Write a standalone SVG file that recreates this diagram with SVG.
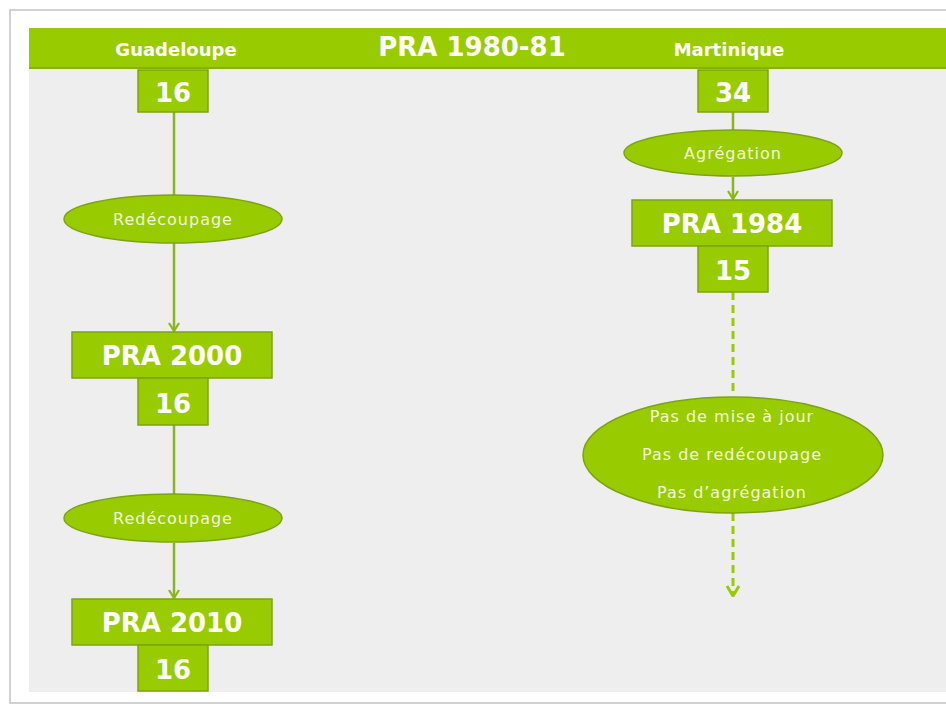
<svg xmlns="http://www.w3.org/2000/svg" width="946" height="706" viewBox="0 0 946 706">
<style>
.box{fill:#99cc00;stroke:#7ea312;stroke-width:1.5}
.ell{fill:#99cc00;stroke:#7ea312;stroke-width:1.5}
.big{font-family:"DejaVu Sans",sans-serif;font-weight:bold;fill:#ffffff;text-anchor:middle}
.lab{font-family:"DejaVu Sans",sans-serif;font-size:16px;letter-spacing:1px;fill:#f2f9dc;text-anchor:middle}
.con{stroke:#8ab51c;stroke-width:2.5;fill:none}
.dash{stroke:#99cc00;stroke-width:3;fill:none;stroke-dasharray:8 5}
</style>
<defs>
<marker id="arr" viewBox="0 0 12 10" refX="6" refY="9" markerWidth="12" markerHeight="10" markerUnits="userSpaceOnUse">
<path d="M1,1 L6,9 L11,1" fill="none" stroke="#8ab51c" stroke-width="2.2"/>
</marker>
<marker id="arr2" viewBox="0 0 14 12" refX="7" refY="11" markerWidth="14" markerHeight="12" markerUnits="userSpaceOnUse">
<path d="M1,1 L7,11 L13,1" fill="none" stroke="#99cc00" stroke-width="3"/>
</marker>
</defs>
<rect x="0" y="0" width="946" height="706" fill="#ffffff"/>
<rect x="10" y="10" width="960" height="693" fill="#ffffff" stroke="#c4c4c4" stroke-width="1.5"/>
<rect x="29" y="28" width="917" height="664" fill="#eeeeee"/>
<g id="header">
<rect x="29" y="28" width="917" height="40" fill="#99cc00"/>
<rect x="29" y="67" width="917" height="2" fill="#86b10f"/>
<text class="big" x="176" y="56" font-size="18">Guadeloupe</text>
<text class="big" x="472" y="56" font-size="26">PRA 1980-81</text>
<text class="big" x="729" y="56" font-size="18">Martinique</text>
</g>
<g id="connectors">
<line class="con" x1="174" y1="112" x2="174" y2="195"/>
<line class="con" x1="174" y1="243" x2="174" y2="331" marker-end="url(#arr)"/>
<line class="con" x1="174" y1="425" x2="174" y2="495"/>
<line class="con" x1="174" y1="543" x2="174" y2="598" marker-end="url(#arr)"/>
<line class="con" x1="733" y1="112" x2="733" y2="130"/>
<line class="con" x1="733" y1="177" x2="733" y2="199" marker-end="url(#arr)"/>
<line class="dash" x1="733" y1="292" x2="733" y2="396"/>
<line class="dash" x1="733" y1="513" x2="733" y2="596" marker-end="url(#arr2)"/>
</g>
<g id="g16a">
<rect class="box" x="138" y="70" width="70" height="42"/>
<text class="big" x="173" y="102" font-size="26">16</text>
</g>
<g id="redecoupage1">
<ellipse class="ell" cx="173" cy="219" rx="109" ry="24"/>
<text class="lab" x="173" y="225">Redécoupage</text>
</g>
<g id="pra2000">
<rect class="box" x="72" y="332" width="200" height="46"/>
<text class="big" x="172" y="365" font-size="26">PRA 2000</text>
<rect class="box" x="138" y="378" width="70" height="47"/>
<text class="big" x="173" y="413" font-size="26">16</text>
</g>
<g id="redecoupage2">
<ellipse class="ell" cx="173" cy="518" rx="109" ry="24"/>
<text class="lab" x="173" y="524">Redécoupage</text>
</g>
<g id="pra2010">
<rect class="box" x="72" y="599" width="200" height="46"/>
<text class="big" x="172" y="632" font-size="26">PRA 2010</text>
<rect class="box" x="138" y="645" width="70" height="46"/>
<text class="big" x="173" y="679" font-size="26">16</text>
</g>
<g id="m34">
<rect class="box" x="698" y="70" width="70" height="42"/>
<text class="big" x="733" y="102" font-size="26">34</text>
</g>
<g id="agregation">
<ellipse class="ell" cx="733" cy="153" rx="109" ry="23"/>
<text class="lab" x="733" y="159">Agrégation</text>
</g>
<g id="pra1984">
<rect class="box" x="632" y="200" width="200" height="46"/>
<text class="big" x="732" y="233" font-size="26">PRA 1984</text>
<rect class="box" x="698" y="246" width="70" height="46"/>
<text class="big" x="733" y="280" font-size="26">15</text>
</g>
<g id="pas">
<ellipse class="ell" cx="733" cy="455" rx="150" ry="58"/>
<text class="lab" x="732" y="422">Pas de mise à jour</text>
<text class="lab" x="732" y="460">Pas de redécoupage</text>
<text class="lab" x="732" y="498">Pas d’agrégation</text>
</g>
</svg>
